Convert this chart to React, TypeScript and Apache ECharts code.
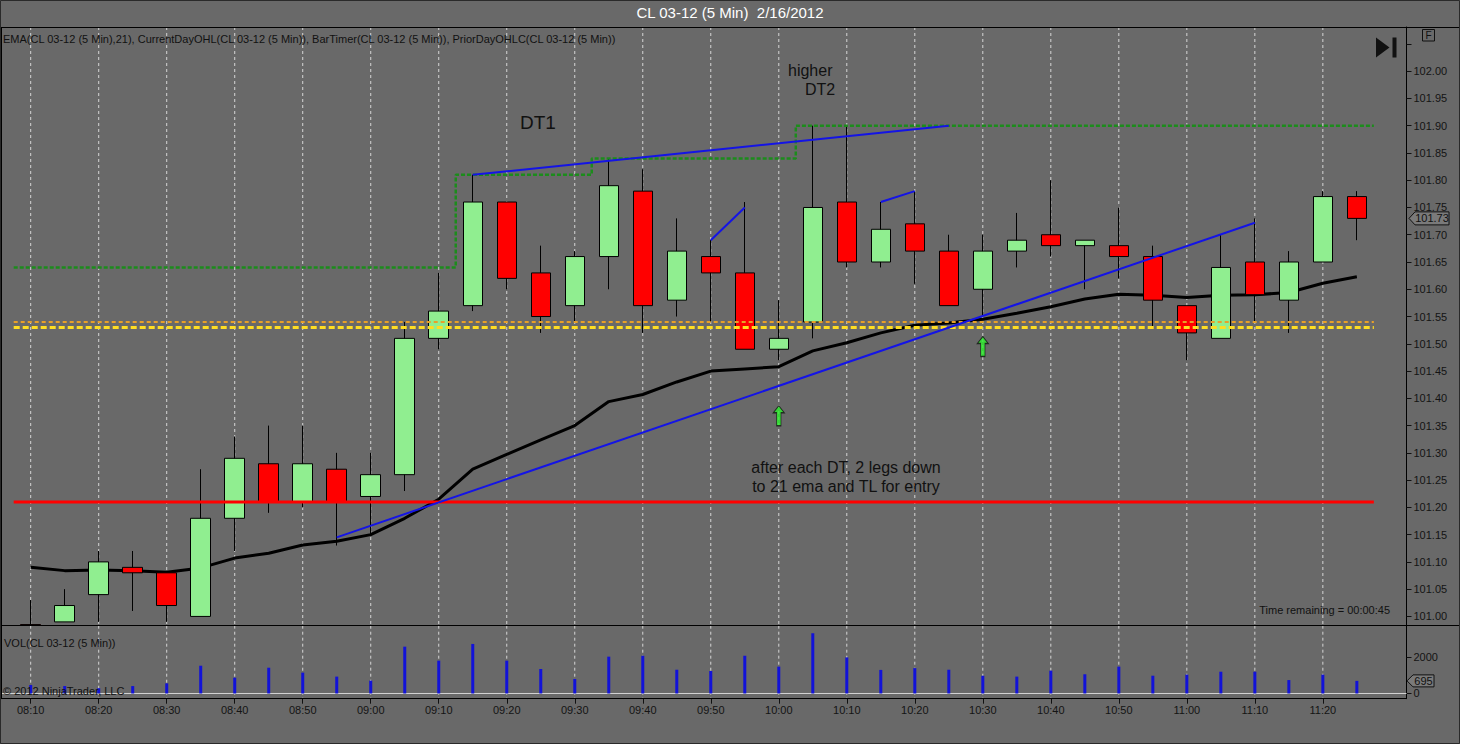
import React, { useEffect, useRef } from 'react';
import * as echarts from 'echarts';

const FONT = '"Liberation Sans", Arial, sans-serif';

const times = [
  '08:10', '08:15', '08:20', '08:25', '08:30', '08:35', '08:40', '08:45', '08:50', '08:55',
  '09:00', '09:05', '09:10', '09:15', '09:20', '09:25', '09:30', '09:35', '09:40', '09:45',
  '09:50', '09:55', '10:00', '10:05', '10:10', '10:15', '10:20', '10:25', '10:30', '10:35',
  '10:40', '10:45', '10:50', '10:55', '11:00', '11:05', '11:10', '11:15', '11:20', '11:25',
];

const opens = [
  100.985, 100.99, 101.04, 101.09, 101.08, 101.00, 101.18, 101.28, 101.21, 101.27,
  101.22, 101.26, 101.51, 101.57, 101.76, 101.63, 101.57, 101.66, 101.78, 101.58,
  101.66, 101.63, 101.49, 101.54, 101.76, 101.65, 101.72, 101.67, 101.60, 101.67,
  101.70, 101.68, 101.68, 101.66, 101.57, 101.51, 101.65, 101.58, 101.65, 101.77,
];
const closes = [
  100.984, 101.02, 101.10, 101.08, 101.02, 101.18, 101.29, 101.21, 101.28, 101.21,
  101.26, 101.51, 101.56, 101.76, 101.62, 101.55, 101.66, 101.79, 101.57, 101.67,
  101.63, 101.49, 101.51, 101.75, 101.65, 101.71, 101.67, 101.57, 101.67, 101.69,
  101.68, 101.69, 101.66, 101.58, 101.52, 101.64, 101.59, 101.65, 101.77, 101.73,
];
const lows = [
  100.984, 100.99, 100.99, 101.01, 100.99, 101.00, 101.12, 101.19, 101.20, 101.13,
  101.15, 101.23, 101.49, 101.56, 101.60, 101.52, 101.54, 101.60, 101.52, 101.55,
  101.54, 101.49, 101.47, 101.51, 101.64, 101.64, 101.61, 101.57, 101.55, 101.64,
  101.66, 101.60, 101.62, 101.53, 101.47, 101.51, 101.54, 101.52, 101.65, 101.69,
];
const highs = [
  101.03, 101.05, 101.12, 101.12, 101.08, 101.27, 101.33, 101.35, 101.35, 101.30,
  101.30, 101.54, 101.63, 101.81, 101.76, 101.68, 101.67, 101.84, 101.82, 101.73,
  101.69, 101.76, 101.58, 101.90, 101.90, 101.76, 101.78, 101.70, 101.70, 101.74,
  101.80, 101.69, 101.75, 101.68, 101.57, 101.70, 101.73, 101.67, 101.78, 101.78,
];
const ema21 = [
  101.090, 101.084, 101.085, 101.084, 101.081, 101.089, 101.107, 101.116, 101.131, 101.138,
  101.150, 101.180, 101.215, 101.270, 101.297, 101.324, 101.350, 101.394, 101.407, 101.430,
  101.450, 101.454, 101.458, 101.487, 101.502, 101.520, 101.534, 101.538, 101.545, 101.556,
  101.568, 101.582, 101.591, 101.589, 101.585, 101.589, 101.590, 101.594, 101.611, 101.623,
];
const volumes = [
  470, 410, 290, 410, 560, 1530, 870, 1420, 1150, 930,
  710, 2580, 1810, 2730, 1810, 1350, 800, 2030, 2080, 1310,
  1240, 2080, 1480, 3320, 1990, 1300, 1400, 1310, 980, 930,
  1260, 1060, 1480, 980, 1040, 1200, 1200, 740, 1040, 695,
];
const dayHigh = [
  101.64, 101.64, 101.64, 101.64, 101.64, 101.64, 101.64, 101.64, 101.64, 101.64,
  101.64, 101.64, 101.64, 101.81, 101.81, 101.81, 101.81, 101.84, 101.84, 101.84,
  101.84, 101.84, 101.84, 101.90, 101.90, 101.90, 101.90, 101.90, 101.90, 101.90,
  101.90, 101.90, 101.90, 101.90, 101.90, 101.90, 101.90, 101.90, 101.90, 101.90,
];
const priorLow = 101.21;
const dayOpen = 101.54;
const priorClose = 101.53;
const trendLines = [
  [[13, 101.81], [27, 101.90]],
  [[20, 101.69], [21, 101.75]],
  [[25, 101.76], [26, 101.78]],
  [[9, 101.145], [36, 101.722]],
];
const arrows = [[22, 101.368], [28, 101.495]];

const gridIdx = [0, 2, 4, 6, 8, 10, 12, 14, 16, 18, 20, 22, 24, 26, 28, 30, 32, 34, 36, 38];
const priceTicks = [
  101.0, 101.05, 101.1, 101.15, 101.2, 101.25, 101.3, 101.35, 101.4, 101.45, 101.5,
  101.55, 101.6, 101.65, 101.7, 101.75, 101.8, 101.85, 101.9, 101.95, 102.0, 102.05,
];
const priceLabels = priceTicks.slice(0, 21);
const volTicks = [0, 2000];

const X_MIN = -0.8735;
const X_MAX = 40.46;

export default function App() {
  const ref = useRef<HTMLDivElement>(null);

  useEffect(() => {
    const chart = echarts.init(ref.current!, undefined, { renderer: 'svg', width: 1460, height: 744 });

    const span = (v: number) => [[-0.5, v], [39.5, v]];
    const gridRender = (params: any, api: any) => {
      const cs = params.coordSys;
      const x = api.coord([api.value(0), api.value(1)])[0];
      return {
        type: 'line',
        shape: { x1: x, y1: cs.y, x2: x, y2: cs.y + cs.height },
        style: { stroke: '#d6d6d6', lineWidth: 1, lineDash: [3, 3] },
      };
    };
    const lineBase = { type: 'line', symbol: 'none', animation: false, silent: true };

    const series: any[] = [
      {
        type: 'custom', xAxisIndex: 0, yAxisIndex: 0, z: 0, silent: true,
        data: gridIdx.map((i) => [i, 101.5]), renderItem: gridRender,
      },
      {
        type: 'custom', xAxisIndex: 1, yAxisIndex: 1, z: 0, silent: true,
        data: gridIdx.map((i) => [i, 0]), renderItem: gridRender,
      },
      {
        ...lineBase, name: 'EMA', xAxisIndex: 0, yAxisIndex: 0, z: 1,
        data: ema21.map((v, i) => [i, v]),
        lineStyle: { color: '#000', width: 3 },
      },
      {
        type: 'candlestick', xAxisIndex: 0, yAxisIndex: 0, z: 2, barWidth: 20, clip: true,
        encode: { x: 0, y: [1, 2, 3, 4] },
        data: opens.map((o, i) => [i, o, closes[i], lows[i], highs[i]]),
        itemStyle: {
          color: '#90ee90', color0: '#ff0000',
          borderColor: '#000', borderColor0: '#000', borderColorDoji: '#000', borderWidth: 1,
        },
      },
      {
        ...lineBase, xAxisIndex: 0, yAxisIndex: 0, z: 3,
        data: dayHigh.flatMap((v, i) => [[i - 0.5, v], [i + 0.5, v]]),
        lineStyle: { color: '#1c8c1c', width: 2.5, type: [4, 2] },
      },
      {
        ...lineBase, xAxisIndex: 0, yAxisIndex: 0, z: 3, data: span(priorLow),
        lineStyle: { color: '#ff0000', width: 3 },
      },
      {
        ...lineBase, xAxisIndex: 0, yAxisIndex: 0, z: 3, data: span(dayOpen),
        lineStyle: { color: '#e8a028', width: 2, type: [4, 3] },
      },
      {
        ...lineBase, xAxisIndex: 0, yAxisIndex: 0, z: 3, data: span(priorClose),
        lineStyle: { color: '#ffdd22', width: 3, type: [6, 3] },
      },
      ...trendLines.map((tl) => ({
        ...lineBase, xAxisIndex: 0, yAxisIndex: 0, z: 4, data: tl,
        lineStyle: { color: '#1414e6', width: 2 },
      })),
      {
        type: 'scatter', xAxisIndex: 0, yAxisIndex: 0, z: 5, silent: true,
        symbol: 'path://M5,0 L10,7 L7,7 L7,20 L3,20 L3,7 L0,7 Z',
        symbolSize: [11, 20], data: arrows,
        itemStyle: { color: '#2cf02c', borderColor: '#111', borderWidth: 1 },
      },
      {
        ...lineBase, xAxisIndex: 1, yAxisIndex: 1, z: 1,
        data: [[X_MIN, 0], [X_MAX, 0]],
        lineStyle: { color: '#d4d4d4', width: 1 },
      },
      {
        type: 'bar', xAxisIndex: 1, yAxisIndex: 1, z: 2, barWidth: 3, silent: true,
        data: volumes.map((v, i) => [i, v]),
        itemStyle: { color: '#1212d8' },
      },
    ];

    const axisText = { color: '#141414', fontSize: 11, fontFamily: FONT };

    chart.setOption({
      animation: false,
      backgroundColor: '#696969',
      textStyle: { fontFamily: FONT },
      grid: [
        { left: 1, right: 53.5, top: 27, height: 598.7 },
        { left: 1, right: 53.5, top: 625.7, height: 73 },
      ],
      xAxis: [
        {
          type: 'value', gridIndex: 0, min: X_MIN, max: X_MAX,
          axisLine: { show: false, onZero: false }, axisTick: { show: false }, axisLabel: { show: false },
          splitLine: { show: false },
        },
        {
          type: 'value', gridIndex: 1, min: X_MIN, max: X_MAX,
          axisLine: { show: true, onZero: false, lineStyle: { color: '#000', width: 1 } },
          axisTick: { show: true, customValues: gridIdx, length: 5, lineStyle: { color: '#111' } },
          axisLabel: {
            show: true, customValues: gridIdx, margin: 6, ...axisText,
            formatter: (v: number) => times[Math.round(v)] ?? '',
          },
          splitLine: { show: false },
        },
      ],
      yAxis: [
        {
          type: 'value', gridIndex: 0, position: 'right', min: 100.983, max: 102.081, scale: true,
          axisLine: { show: true, onZero: false, lineStyle: { color: '#000', width: 1 } },
          axisTick: { show: true, customValues: priceTicks, length: 5, lineStyle: { color: '#111' } },
          axisLabel: {
            show: true, customValues: priceLabels, margin: 7, ...axisText,
            formatter: (v: number) => v.toFixed(2),
          },
          splitLine: { show: false },
        },
        {
          type: 'value', gridIndex: 1, position: 'right', min: -287, max: 3736,
          axisLine: { show: true, onZero: false, lineStyle: { color: '#000', width: 1 } },
          axisTick: { show: true, customValues: volTicks, length: 5, lineStyle: { color: '#111' } },
          axisLabel: {
            show: true, customValues: volTicks, margin: 7, ...axisText,
            formatter: (v: number) => String(Math.round(v)),
          },
          splitLine: { show: false },
        },
      ],
      series,
    });

    const lastClose = closes[closes.length - 1];
    const lastVol = volumes[volumes.length - 1];
    const pY = chart.convertToPixel({ yAxisIndex: 0 } as any, lastClose) as number;
    const vY = chart.convertToPixel({ yAxisIndex: 1 } as any, lastVol) as number;

    const txt = (x: number, y: number, text: string, size: number, extra: any = {}) => ({
      type: 'text', x, y, z: 100, silent: true,
      style: { text, fontSize: size, fontFamily: FONT, fill: '#111', verticalAlign: 'middle', align: 'left', ...extra },
    });
    const hline = (x1: number, x2: number, y: number) => ({
      type: 'line', z: 100, silent: true, shape: { x1, y1: y, x2, y2: y }, style: { stroke: '#000', lineWidth: 1 },
    });
    const tag = (x0: number, x1: number, y: number, h: number, label: string) => [
      {
        type: 'polygon', z: 100, silent: true,
        shape: { points: [[x0, y], [x0 + 6, y - h / 2], [x1, y - h / 2], [x1, y + h / 2], [x0 + 6, y + h / 2]] },
        style: { fill: '#7a7a7a', stroke: '#111', lineWidth: 1 },
      },
      txt((x0 + 6 + x1) / 2, y, label, 11, { align: 'center' }),
    ];

    chart.setOption({
      graphic: [
        txt(730, 12, 'CL 03-12 (5 Min)  2/16/2012', 15, { fill: '#ffffff', align: 'center' }),
        txt(3, 39, 'EMA(CL 03-12 (5 Min),21), CurrentDayOHL(CL 03-12 (5 Min)), BarTimer(CL 03-12 (5 Min)), PriorDayOHLC(CL 03-12 (5 Min))', 11),
        {
          type: 'rect', z: 100, silent: true, shape: { x: 1422.5, y: 29.5, width: 12, height: 11.5 },
          style: { fill: 'none', stroke: '#111', lineWidth: 1 },
        },
        txt(1428.5, 35.5, 'F', 10, { align: 'center' }),
        {
          type: 'polygon', z: 100, silent: true,
          shape: { points: [[1376, 37.5], [1389.5, 47.5], [1376, 57.5]] }, style: { fill: '#111' },
        },
        { type: 'rect', z: 100, silent: true, shape: { x: 1392.5, y: 37.5, width: 4, height: 20 }, style: { fill: '#111' } },
        txt(1390, 610, 'Time remaining = 00:00:45', 11, { align: 'right' }),
        txt(4, 643, 'VOL(CL 03-12 (5 Min))', 11),
        txt(3, 691, '\u00a9 2012 NinjaTrader, LLC', 11),
        txt(520, 122, 'DT1', 19),
        txt(788, 70, 'higher', 16),
        txt(805, 89, 'DT2', 16),
        txt(846, 467, 'after each DT, 2 legs down', 16, { align: 'center' }),
        txt(846, 486, 'to 21 ema and TL for entry', 16, { align: 'center' }),
        hline(0, 1460, 27.5),
        hline(0, 1460, 625.5),
        hline(0, 1406.5, 698.5),
        { type: 'line', z: 100, silent: true, shape: { x1: 1.5, y1: 27, x2: 1.5, y2: 699 }, style: { stroke: '#000', lineWidth: 1 } },
        {
          type: 'rect', z: 100, silent: true, shape: { x: 0.5, y: 0.5, width: 1459, height: 743 },
          style: { fill: 'none', stroke: '#2a2a2a', lineWidth: 1 },
        },
        ...tag(1409, 1449, pY, 13, lastClose.toFixed(2)),
        ...tag(1407, 1434, vY, 12, String(lastVol)),
      ],
    });

    return () => chart.dispose();
  }, []);

  return <div ref={ref} style={{ position: 'fixed', left: 0, top: 0, width: 1460, height: 744 }} />;
}
